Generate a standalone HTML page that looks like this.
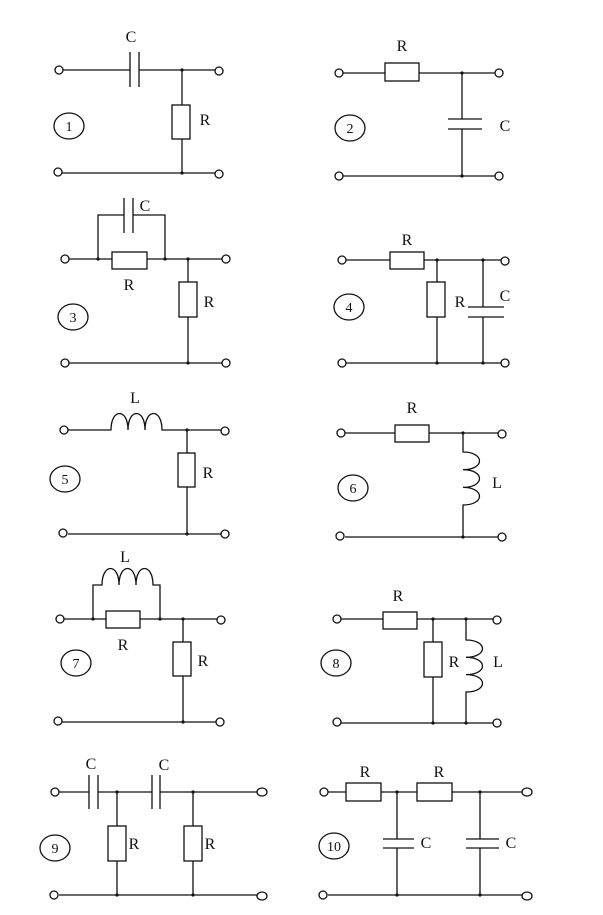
<!DOCTYPE html>
<html><head><meta charset="utf-8"><style>
html,body{margin:0;padding:0;background:#fff;}
svg{display:block;}
text{font-family:"Liberation Serif",serif;font-size:16px;fill:#111;}
.n{font-size:14px;}
</style></head><body>
<svg width="603" height="915" viewBox="0 0 603 915" xmlns="http://www.w3.org/2000/svg">
<g stroke="#111" stroke-width="1.3" fill="none">
<!-- 1 -->
<path d="M63 70H130M139 70H215M130 52V87M139 52V87M182 70V105M182 139V173M62 173H215"/>
<rect x="172" y="105" width="18" height="34"/>
<circle cx="59" cy="70" r="4"/><circle cx="219" cy="71" r="4"/><circle cx="58" cy="172" r="4"/><circle cx="219" cy="174" r="4"/>
<ellipse cx="69" cy="126" rx="15" ry="13"/>
<!-- 2 -->
<path d="M343 73H385M419 73H495M462 73V119M462 129V176M343 176H495M448 119H482M448 129H482"/>
<rect x="385" y="63" width="34" height="18"/>
<circle cx="339" cy="73" r="4"/><circle cx="499" cy="73" r="4"/><circle cx="339" cy="176" r="4"/><circle cx="499" cy="176" r="4"/>
<ellipse cx="350" cy="128" rx="15" ry="13"/>
<!-- 3 -->
<path d="M69 259H112M147 259H222M98 259V215H124M133 215H165V259M124 198V233M133 198V233M188 259V282M188 317V363M69 363H222"/>
<rect x="112" y="252" width="35" height="17"/><rect x="179" y="282" width="18" height="35"/>
<circle cx="65" cy="259" r="4"/><circle cx="226" cy="259" r="4"/><circle cx="65" cy="363" r="4"/><circle cx="226" cy="363" r="4"/>
<ellipse cx="73" cy="317" rx="15" ry="13"/>
<!-- 4 -->
<path d="M346 260H390M424 260H501M437 260V282M437 317V363M483 260V307M483 317V363M468 307H504M468 317H504M346 363H501"/>
<rect x="390" y="252" width="34" height="17"/><rect x="427" y="282" width="18" height="35"/>
<circle cx="342" cy="260" r="4"/><circle cx="505" cy="261" r="4"/><circle cx="342" cy="363" r="4"/><circle cx="505" cy="363" r="4"/>
<ellipse cx="349" cy="307" rx="15" ry="13"/>
<!-- 5 -->
<path d="M68 430H111c0-22 17-22 17 0c0-22 17-22 17 0c0-22 17-22 17 0H221M187 430V453M187 487V534M68 534H221"/>
<rect x="178" y="453" width="17" height="34"/>
<circle cx="64" cy="430" r="4"/><circle cx="225" cy="431" r="4"/><circle cx="63" cy="533" r="4"/><circle cx="225" cy="534" r="4"/>
<ellipse cx="65" cy="479" rx="15" ry="13"/>
<!-- 6 -->
<path d="M345 433H395M429 433H498M463 433V452c22 0 22 17.7 0 17.7c22 0 22 17.7 0 17.7c22 0 22 17.6 0 17.6V537M345 537H498"/>
<rect x="395" y="425" width="34" height="17"/>
<circle cx="341" cy="433" r="4"/><circle cx="502" cy="434" r="4"/><circle cx="340" cy="536" r="4"/><circle cx="502" cy="537" r="4"/>
<ellipse cx="353" cy="488" rx="15" ry="13"/>
<!-- 7 -->
<path d="M64 619H106M140 619H217M93 619V585H102c0-22 17-22 17 0c0-22 17-22 17 0c0-22 17-22 17 0H160V619M183 619V642M183 676V722M62 722H216"/>
<rect x="106" y="611" width="34" height="17"/><rect x="173" y="642" width="18" height="34"/>
<circle cx="60" cy="619" r="4"/><circle cx="221" cy="620" r="4"/><circle cx="58" cy="721" r="4"/><circle cx="220" cy="722" r="4"/>
<ellipse cx="76" cy="663" rx="15" ry="13"/>
<!-- 8 -->
<path d="M341 619H383M417 619H493M433 619V642M433 677V723M466 619V640c22 0 22 17.3 0 17.3c22 0 22 17.3 0 17.3c22 0 22 17.4 0 17.4V723M341 723H493"/>
<rect x="383" y="612" width="34" height="17"/><rect x="424" y="642" width="18" height="35"/>
<circle cx="337" cy="619" r="4"/><circle cx="497" cy="620" r="4"/><circle cx="337" cy="722" r="4"/><circle cx="497" cy="723" r="4"/>
<ellipse cx="336" cy="663" rx="15" ry="13"/>
<!-- 9 -->
<path d="M59 792H89M98 792H152M160 792H257M89 775V809M98 775V809M152 775V809M160 775V809M117 792V826M117 861V895M193 792V826M193 861V895M59 895H257"/>
<rect x="108" y="826" width="18" height="35"/><rect x="184" y="826" width="18" height="35"/>
<circle cx="55" cy="792" r="4"/><ellipse cx="262" cy="792" rx="5" ry="4"/><circle cx="54" cy="895" r="4"/><ellipse cx="262" cy="896" rx="5" ry="4"/>
<ellipse cx="55" cy="848" rx="15" ry="13"/>
<!-- 10 -->
<path d="M328 792H346M381 792H417M452 792H522M397 792V839M397 848V895M480 792V839M480 848V895M383 839H414M383 848H414M466 839H499M466 848H499M328 895H522"/>
<rect x="346" y="783" width="35" height="18"/><rect x="417" y="783" width="35" height="18"/>
<circle cx="324" cy="792" r="4"/><ellipse cx="527" cy="792" rx="5" ry="4"/><circle cx="323" cy="895" r="4"/><ellipse cx="527" cy="896" rx="5" ry="4"/>
<ellipse cx="334" cy="846" rx="15" ry="13"/>
</g>
<g fill="#111">
<circle cx="182" cy="70" r="1.6"/><circle cx="182" cy="173" r="1.6"/>
<circle cx="462" cy="73" r="1.6"/><circle cx="462" cy="176" r="1.6"/>
<circle cx="98" cy="259" r="1.6"/><circle cx="165" cy="259" r="1.6"/><circle cx="188" cy="259" r="1.6"/><circle cx="188" cy="363" r="1.6"/>
<circle cx="437" cy="260" r="1.6"/><circle cx="483" cy="260" r="1.6"/><circle cx="437" cy="363" r="1.6"/><circle cx="483" cy="363" r="1.6"/>
<circle cx="187" cy="430" r="1.6"/><circle cx="187" cy="534" r="1.6"/>
<circle cx="463" cy="433" r="1.6"/><circle cx="463" cy="537" r="1.6"/>
<circle cx="93" cy="619" r="1.6"/><circle cx="160" cy="619" r="1.6"/><circle cx="183" cy="619" r="1.6"/><circle cx="183" cy="722" r="1.6"/>
<circle cx="433" cy="619" r="1.6"/><circle cx="466" cy="619" r="1.6"/><circle cx="433" cy="723" r="1.6"/><circle cx="466" cy="723" r="1.6"/>
<circle cx="117" cy="792" r="1.6"/><circle cx="193" cy="792" r="1.6"/><circle cx="117" cy="895" r="1.6"/><circle cx="193" cy="895" r="1.6"/>
<circle cx="397" cy="792" r="1.6"/><circle cx="480" cy="792" r="1.6"/><circle cx="397" cy="895" r="1.6"/><circle cx="480" cy="895" r="1.6"/>
</g>
<g text-anchor="middle">
<text x="131" y="42">C</text><text x="205" y="125">R</text><text x="69" y="131" class="n">1</text>
<text x="402" y="51">R</text><text x="505" y="131">C</text><text x="350" y="133" class="n">2</text>
<text x="145" y="211">C</text><text x="129" y="290">R</text><text x="209" y="307">R</text><text x="73" y="322" class="n">3</text>
<text x="407" y="245">R</text><text x="460" y="307">R</text><text x="505" y="301">C</text><text x="349" y="312" class="n">4</text>
<text x="135" y="403">L</text><text x="208" y="478">R</text><text x="65" y="484" class="n">5</text>
<text x="412" y="413">R</text><text x="497" y="488">L</text><text x="353" y="493" class="n">6</text>
<text x="125" y="562">L</text><text x="123" y="650">R</text><text x="203" y="666">R</text><text x="76" y="668" class="n">7</text>
<text x="398" y="601">R</text><text x="454" y="667">R</text><text x="498" y="667">L</text><text x="336" y="668" class="n">8</text>
<text x="91" y="769">C</text><text x="164" y="770">C</text><text x="134" y="849">R</text><text x="210" y="849">R</text><text x="55" y="853" class="n">9</text>
<text x="365" y="777">R</text><text x="439" y="777">R</text><text x="426" y="848">C</text><text x="511" y="848">C</text><text x="334" y="851" class="n">10</text>
</g>
</svg>
</body></html>
